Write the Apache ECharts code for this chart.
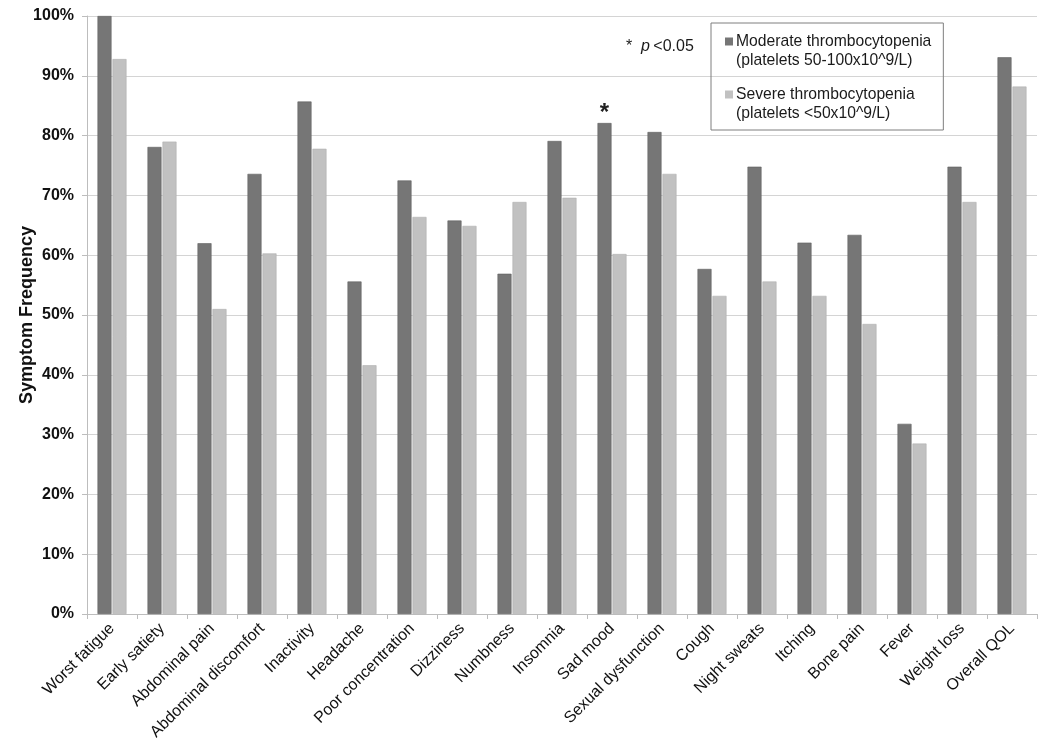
<!DOCTYPE html>
<html>
<head>
<meta charset="utf-8">
<script src="https://cdn.jsdelivr.net/npm/echarts@6/dist/echarts.min.js"></script>
<style>
html,body{margin:0;padding:0;background:#fff;}
#chart{width:1050px;height:750px;}
</style>
</head>
<body>
<div id="chart"></div>
<script>
var categories = ['Worst fatigue','Early satiety','Abdominal pain','Abdominal discomfort','Inactivity','Headache','Poor concentration','Dizziness','Numbness','Insomnia','Sad mood','Sexual dysfunction','Cough','Night sweats','Itching','Bone pain','Fever','Weight loss','Overall QOL'];
var moderate = [100, 78.1, 62.0, 73.6, 85.7, 55.6, 72.5, 65.8, 56.9, 79.1, 82.1, 80.6, 57.7, 74.8, 62.1, 63.4, 31.8, 74.8, 93.1];
var severe = [92.8, 79.0, 51.0, 60.3, 77.8, 41.6, 66.4, 64.9, 68.9, 69.6, 60.2, 73.6, 53.2, 55.6, 53.2, 48.5, 28.5, 68.9, 88.2];
var significant = ['Sad mood'];
var seriesNames = ['Moderate thrombocytopenia', 'Severe thrombocytopenia'];
var seriesSubtitles = ['(platelets 50-100x10^9/L)', '(platelets <50x10^9/L)'];
var yTicks = [0, 10, 20, 30, 40, 50, 60, 70, 80, 90, 100];
var note = 'p <0.05';

var FONT = '"Liberation Sans", Arial, sans-serif';
var DARK = '#767676';
var LIGHT = '#c1c1c1';

var chart = echarts.init(document.getElementById('chart'));

var modData = moderate.map(function (v, i) {
  if (significant.indexOf(categories[i]) >= 0) {
    return {
      value: v,
      label: {
        show: true, position: 'top', distance: -2, formatter: '*',
        fontSize: 24, fontWeight: 'bold', color: '#222', fontFamily: FONT
      }
    };
  }
  return v;
});

var option = {
  backgroundColor: '#fff',
  animation: false,
  grid: { left: 87, right: 13, top: 16, bottom: 136, containLabel: false, outerBoundsMode: 'none' },
  legend: {
    left: 711, top: 23,
    orient: 'vertical',
    icon: 'none',
    itemWidth: 0, itemHeight: 8,
    itemGap: 15,
    padding: [9, 12, 7, 9],
    borderColor: '#7f7f7f', borderWidth: 1,
    selectedMode: false,
    data: seriesNames,
    formatter: function (name) {
      var i = seriesNames.indexOf(name);
      var sq = i === 0 ? 'sqd' : 'sql';
      return '{' + sq + '|}{t|' + name + '}\n{sp|}{t|' + seriesSubtitles[i] + '}';
    },
    textStyle: {
      fontFamily: FONT, fontSize: 15.7, color: '#1a1a1a', lineHeight: 19,
      rich: {
        sqd: { width: 8, height: 8, backgroundColor: DARK, padding: 0 },
        sql: { width: 8, height: 8, backgroundColor: LIGHT, padding: 0 },
        sp: { width: 8 },
        t: { fontFamily: FONT, fontSize: 15.7, color: '#1a1a1a', lineHeight: 19, padding: [0, 0, 0, 3] }
      }
    }
  },
  graphic: [{
    type: 'text',
    left: 626, top: 39,
    style: {
      text: '{s|*}{p|  p} {n|<0.05}',
      rich: {
        s: { fontFamily: FONT, fontSize: 16, fill: '#1a1a1a' },
        p: { fontFamily: FONT, fontSize: 16, fontStyle: 'italic', fill: '#1a1a1a' },
        n: { fontFamily: FONT, fontSize: 16, fill: '#1a1a1a' }
      }
    }
  }],
  xAxis: {
    type: 'category',
    data: categories,
    axisLine: { lineStyle: { color: '#bdbdbd', width: 1 } },
    axisTick: { show: true, length: 5, alignWithLabel: false, lineStyle: { color: '#bdbdbd' } },
    axisLabel: {
      interval: 0, rotate: 45, margin: 12,
      fontFamily: FONT, fontSize: 16, color: '#111'
    }
  },
  yAxis: {
    type: 'value',
    min: 0, max: 100, interval: 10,
    name: 'Symptom Frequency',
    nameLocation: 'middle',
    nameGap: 51,
    nameMoveOverlap: false,
    nameTextStyle: { fontFamily: FONT, fontSize: 18, fontWeight: 'bold', color: '#111' },
    axisLine: { show: true, lineStyle: { color: '#bdbdbd', width: 1 } },
    axisTick: { show: true, length: 5, lineStyle: { color: '#bdbdbd' } },
    axisLabel: {
      margin: 13,
      fontFamily: FONT, fontSize: 16, fontWeight: 'bold', color: '#111',
      formatter: function (v) { return yTicks.indexOf(v) >= 0 ? v + '%' : ''; }
    },
    splitLine: { lineStyle: { color: '#d4d4d4', width: 1.2 } }
  },
  series: [
    {
      name: seriesNames[0], type: 'bar', data: modData,
      barWidth: 14, barGap: '7%',
      itemStyle: { color: DARK, borderColor: '#5f5f5f', borderWidth: 0.6 }
    },
    {
      name: seriesNames[1], type: 'bar', data: severe,
      barWidth: 14,
      itemStyle: { color: LIGHT, borderColor: '#b0b0b0', borderWidth: 0.6 }
    }
  ]
};
chart.setOption(option);
</script>
</body>
</html>
